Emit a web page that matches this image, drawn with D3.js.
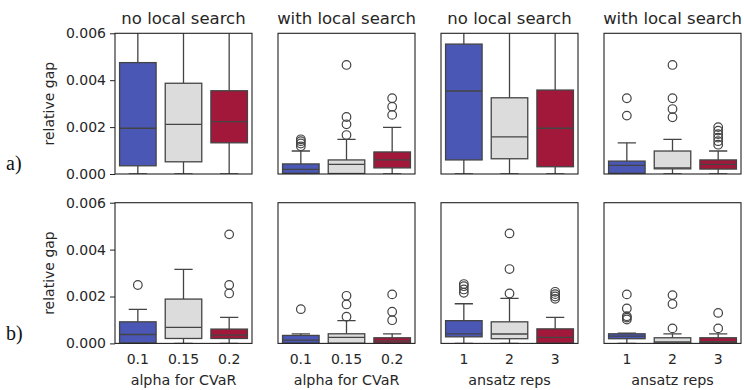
<!DOCTYPE html>
<html>
<head>
<meta charset="utf-8">
<script src="https://cdn.jsdelivr.net/npm/d3@7"></script>
<style>
  html, body { margin: 0; padding: 0; background: #ffffff; }
  svg { display: block; }
  text { font-family: "DejaVu Sans", sans-serif; fill: #262626; }
</style>
</head>
<body>
<svg id="chart" width="744" height="390"></svg>
<script>
// ---------------- DATA ----------------
const categoriesAlpha = ["0.1", "0.15", "0.2"];
const categoriesReps = ["1", "2", "3"];
const panelTitles = ["no local search", "with local search", "no local search", "with local search"];
const xLabels = ["alpha for CVaR", "alpha for CVaR", "ansatz reps", "ansatz reps"];
const rowLabels = ["a)", "b)"];
const yLabel = "relative gap";
const yTicks = [0, 0.002, 0.004, 0.006];
const seriesColors = ["#4a57b5", "#dcdcdc", "#a2183a"];

// box summaries per category: [whiskerLow, q1, median, q3, whiskerHigh]
// row a) panel 1: alpha, no local search
const a1Stats = [
  [0.0, 0.00035, 0.00195, 0.00475, 0.0095],
  [0.0, 0.00052, 0.00212, 0.00387, 0.0090],
  [0.0, 0.00133, 0.00223, 0.00355, 0.0085]
];
const a1Outliers = [[], [], []];
// row a) panel 2: alpha, with local search
const a2Stats = [
  [0.0, 0.00003, 0.00020, 0.00043, 0.00098],
  [0.0, 0.00002, 0.00041, 0.00060, 0.00148],
  [0.0, 0.00026, 0.00060, 0.00094, 0.00199]
];
const a2Outliers = [
  [0.00118, 0.0013, 0.0014, 0.00148],
  [0.00166, 0.00212, 0.00243, 0.00465],
  [0.00252, 0.00287, 0.00323]
];
// row a) panel 3: reps, no local search
const a3Stats = [
  [0.0, 0.00060, 0.00354, 0.00554, 0.0100],
  [0.0, 0.00065, 0.00158, 0.00325, 0.0090],
  [0.0, 0.00031, 0.00195, 0.00358, 0.0090]
];
const a3Outliers = [[], [], []];
// row a) panel 4: reps, with local search
const a4Stats = [
  [0.0, 0.00003, 0.00037, 0.00055, 0.00133],
  [0.0, 0.00022, 0.00026, 0.00098, 0.00148],
  [0.0, 0.00021, 0.00041, 0.00060, 0.00098]
];
const a4Outliers = [
  [0.00249, 0.00323],
  [0.00242, 0.00277, 0.00323, 0.00465],
  [0.00125, 0.0014, 0.00155, 0.0017, 0.00185, 0.002]
];
// row b) panel 1: alpha, no local search
const b1Stats = [
  [0.0, 0.00002, 0.00038, 0.00092, 0.00145],
  [0.0, 0.00021, 0.00068, 0.00189, 0.00316],
  [0.0, 0.00021, 0.00035, 0.00061, 0.00111]
];
const b1Outliers = [
  [0.00249],
  [],
  [0.00213, 0.00249, 0.00465]
];
// row b) panel 2: alpha, with local search
const b2Stats = [
  [0.0, 0.00001, 0.00014, 0.00034, 0.00041],
  [0.0, 0.00001, 0.00026, 0.00041, 0.00097],
  [0.0, 0.00001, 0.00011, 0.00024, 0.00041]
];
const b2Outliers = [
  [0.00146],
  [0.00114, 0.00166, 0.00203],
  [0.00099, 0.00135, 0.00209]
];
// row b) panel 3: reps, no local search
const b3Stats = [
  [0.0, 0.00028, 0.00041, 0.00097, 0.00169],
  [0.0, 0.00020, 0.00040, 0.00092, 0.00192],
  [0.0, 0.00001, 0.00026, 0.00062, 0.00111]
];
const b3Outliers = [
  [0.00216, 0.0023, 0.00244, 0.00253],
  [0.00213, 0.00317, 0.00469],
  [0.0019, 0.002, 0.0021, 0.0022]
];
// row b) panel 4: reps, with local search
const b4Stats = [
  [0.0, 0.00020, 0.00031, 0.00041, 0.00044],
  [0.0, 0.00001, 0.00006, 0.00024, 0.00041],
  [0.0, 0.00001, 0.00007, 0.00024, 0.00041]
];
const b4Outliers = [
  [0.00102, 0.0011, 0.00116, 0.00149, 0.00209],
  [0.00064, 0.00168, 0.00206],
  [0.00064, 0.0013]
];

const panels = [
  { row: 0, col: 0, cats: categoriesAlpha, stats: a1Stats, outliers: a1Outliers },
  { row: 0, col: 1, cats: categoriesAlpha, stats: a2Stats, outliers: a2Outliers },
  { row: 0, col: 2, cats: categoriesReps,  stats: a3Stats, outliers: a3Outliers },
  { row: 0, col: 3, cats: categoriesReps,  stats: a4Stats, outliers: a4Outliers },
  { row: 1, col: 0, cats: categoriesAlpha, stats: b1Stats, outliers: b1Outliers },
  { row: 1, col: 1, cats: categoriesAlpha, stats: b2Stats, outliers: b2Outliers },
  { row: 1, col: 2, cats: categoriesReps,  stats: b3Stats, outliers: b3Outliers },
  { row: 1, col: 3, cats: categoriesReps,  stats: b4Stats, outliers: b4Outliers }
];

// ---------------- LAYOUT ----------------
const colLeft = [115, 278, 441, 604];
const panelW = 137;
const rowTop = [33.3, 202.7];
const panelH = 140.7;
const edgeColor = "#444444";

const svg = d3.select("#chart");

panels.forEach((p, i) => {
  const x0 = colLeft[p.col], y0 = rowTop[p.row];
  const g = svg.append("g").attr("transform", `translate(${x0},${y0})`);
  const x = d3.scaleBand().domain(p.cats).range([0, panelW]).paddingInner(0).paddingOuter(0);
  const y = d3.scaleLinear().domain([0, 0.006]).range([panelH, 0]);
  const bw = x.bandwidth() * 0.8;
  const clipId = "clip" + i;
  g.append("clipPath").attr("id", clipId)
    .append("rect").attr("x", 0).attr("y", 0).attr("width", panelW).attr("height", panelH);
  const plot = g.append("g").attr("clip-path", `url(#${clipId})`);

  p.cats.forEach((c, k) => {
    const [wlo, q1, med, q3, whi] = p.stats[k];
    const cx = x(c) + x.bandwidth() / 2;
    const bg = plot.append("g");
    // whiskers
    bg.append("line").attr("x1", cx).attr("x2", cx).attr("y1", y(q3)).attr("y2", y(whi))
      .attr("stroke", edgeColor).attr("stroke-width", 1.3);
    bg.append("line").attr("x1", cx).attr("x2", cx).attr("y1", y(q1)).attr("y2", y(wlo))
      .attr("stroke", edgeColor).attr("stroke-width", 1.3);
    // caps
    [wlo, whi].forEach(v => {
      bg.append("line").attr("x1", cx - bw / 4).attr("x2", cx + bw / 4)
        .attr("y1", y(v)).attr("y2", y(v))
        .attr("stroke", edgeColor).attr("stroke-width", 1.3);
    });
    // box
    bg.append("rect").attr("x", cx - bw / 2).attr("width", bw)
      .attr("y", y(q3)).attr("height", Math.max(0.5, y(q1) - y(q3)))
      .attr("fill", seriesColors[k]).attr("stroke", edgeColor).attr("stroke-width", 1.3);
    // median
    bg.append("line").attr("x1", cx - bw / 2).attr("x2", cx + bw / 2)
      .attr("y1", y(med)).attr("y2", y(med))
      .attr("stroke", edgeColor).attr("stroke-width", 1.3);
    // outliers
    bg.selectAll("circle.o").data(p.outliers[k]).enter().append("circle")
      .attr("cx", cx).attr("cy", d => y(d)).attr("r", 4.3)
      .attr("fill", "none").attr("stroke", edgeColor).attr("stroke-width", 1.2);
  });

  // frame
  g.append("rect").attr("x", 0).attr("y", 0).attr("width", panelW).attr("height", panelH)
    .attr("fill", "none").attr("stroke", "#222222").attr("stroke-width", 1.1);

  // title
  if (p.row === 0) {
    g.append("text").attr("x", panelW / 2).attr("y", -9.5).attr("text-anchor", "middle")
      .style("font-size", "16.5px").text(panelTitles[p.col]);
  }

  // y axis for first column
  if (p.col === 0) {
    const ay = g.append("g").call(d3.axisLeft(y).tickValues(yTicks).tickFormat(d3.format(".3f"))
      .tickSize(5).tickPadding(4));
    ay.select(".domain").remove();
    ay.selectAll("line").attr("stroke", "#222222").attr("stroke-width", 1);
    ay.selectAll("text").style("font-size", "14px").style("font-family", "DejaVu Sans, sans-serif")
      .attr("fill", "#262626");
    g.append("text").attr("transform", `translate(${-61},${panelH / 2}) rotate(-90)`)
      .attr("text-anchor", "middle").style("font-size", "14px").text(yLabel);
  }

  // x axis for bottom row
  if (p.row === 1) {
    const ax = g.append("g").attr("transform", `translate(0,${panelH})`)
      .call(d3.axisBottom(x).tickSize(0).tickPadding(11));
    ax.select(".domain").remove();
    ax.selectAll("text").style("font-size", "14px").style("font-family", "DejaVu Sans, sans-serif")
      .attr("fill", "#262626");
    g.append("text").attr("x", panelW / 2).attr("y", panelH + 41.5).attr("text-anchor", "middle")
      .style("font-size", "14.3px").text(xLabels[p.col]);
  }
});

// row labels
rowLabels.forEach((t, r) => {
  svg.append("text").attr("x", 6).attr("y", r === 0 ? 170 : 340)
    .style("font-family", "'Liberation Serif', 'Times New Roman', serif")
    .style("font-size", "20px").style("fill", "#111111").text(t);
});
</script>
</body>
</html>
